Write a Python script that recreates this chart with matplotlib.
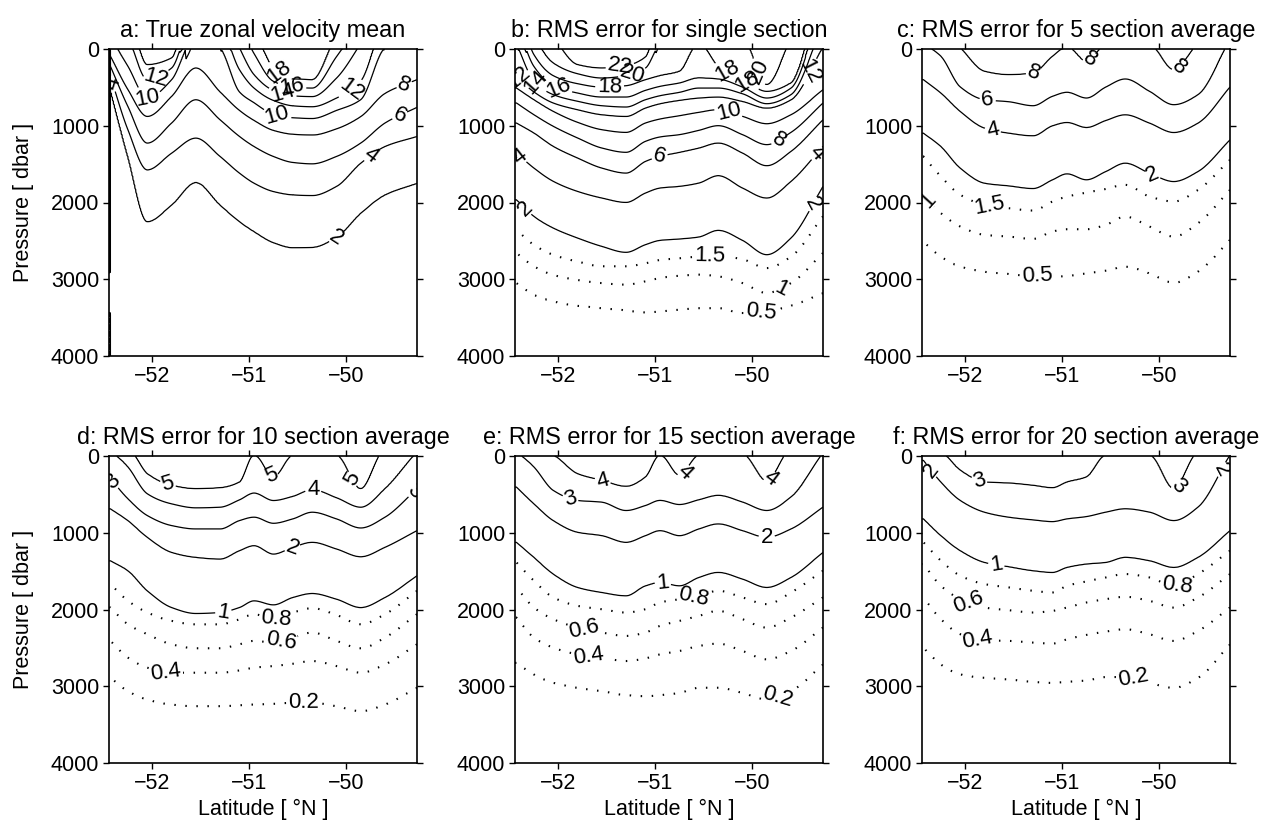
import numpy as np
import matplotlib
matplotlib.use("Agg")
import matplotlib.pyplot as plt

plt.rcParams['font.family'] = ['Liberation Sans', 'DejaVu Sans']

nan = np.nan
# latitude nodes (deg N) shared by all panels
lat = [-52.43, -52.25, -52.05, -51.8, -51.55, -51.3, -51.1, -50.95,
       -50.75, -50.55, -50.35, -50.1, -49.85, -49.6, -49.27]
edge_lat = -52.445

# each panel: value at the surface, pressure (dbar) of every contour level
# at each latitude node (nan = level absent), value at 4000 dbar

# a: true zonal velocity mean
a_surface = [9, 11, 15, 14.8, 8.7, 9.9, 13.9, 16.3, 18.8, 19.5, 19.5, 16.8, 13.5, 9.9, 9.0]
a_depth = {
    18: [nan, nan, nan, nan, nan, nan, nan, nan, 248, 391, 400, nan, nan, nan, nan],
    16: [nan, nan, nan, nan, nan, nan, nan, 60, 422, 496, 509, 100, nan, nan, nan],
    14: [nan, nan, 204, 117, nan, nan, nan, 335, 540, 610, 620, 380, nan, nan, nan],
    12: [nan, nan, 400, 248, nan, nan, 270, 509, 670, 740, 752, 640, 420, nan, nan],
    10: [nan, 226, 639, 400, nan, nan, 560, 700, 850, 895, 905, 800, 660, nan, nan],
    8: [96, 530, 878, 617, 248, 560, 800, 930, 1060, 1110, 1120, 1040, 880, 580, 400],
    6: [226, 748, 1226, 965, 661, 922, 1139, 1270, 1400, 1478, 1496, 1400, 1226, 965, 760],
    4: [357, 1052, 1574, 1357, 1161, 1400, 1617, 1748, 1857, 1900, 1909, 1790, 1487, 1270, 1139],
    2: [530, 1400, 2248, 2031, 1739, 2031, 2248, 2378, 2522, 2587, 2583, 2452, 2139, 1900, 1748],
}
a_bottom = 0.8
# strongly negative values right at the western boundary
a_edge_p = [0, 2880, 2920, 3430, 3470, 4000]
a_edge_v = [-30, -30, 1, 1, -30, -30]

# b: single section
b_surface = [13.5, 18.8, 21, 23.5, 24, 24, 22.5, 19.5, 18.5, 17.5, 18.5, 19, 21.5, 19, 11.8]
b_depth = {
    22: [nan, nan, nan, 204, 248, 217, 104, nan, nan, nan, nan, nan, nan, nan, nan],
    20: [nan, nan, 183, 322, 378, 348, 248, nan, nan, nan, nan, nan, 465, nan, nan],
    18: [nan, 74, 348, 452, 496, 478, 400, 348, 291, nan, 226, 396, 552, 443, nan],
    16: [nan, 226, 478, 574, 626, 626, 539, 487, 443, 378, 391, 496, 639, 509, nan],
    14: [nan, 420, 595, 681, 739, 756, 661, 609, 565, 509, 509, 583, 713, 595, nan],
    12: [357, 560, 704, 791, 856, 878, 769, 713, 669, 639, 626, 683, 769, 661, nan],
    10: [508, 660, 812, 955, 1051, 1086, 964, 912, 869, 825, 790, 877, 973, 856, 530],
    8: [703, 856, 1007, 1159, 1290, 1346, 1203, 1146, 1116, 1060, 999, 1116, 1246, 1086, 703],
    6: [964, 1094, 1268, 1420, 1551, 1616, 1464, 1398, 1346, 1290, 1225, 1355, 1520, 1333, 921],
    4: [1355, 1551, 1724, 1855, 1941, 1998, 1876, 1811, 1789, 1746, 1650, 1811, 1941, 1724, 1268],
    2: [1963, 2180, 2332, 2462, 2571, 2649, 2549, 2493, 2475, 2449, 2362, 2493, 2680, 2462, 1789],
    1.5: [2357, 2553, 2683, 2770, 2831, 2831, 2792, 2749, 2727, 2705, 2696, 2740, 2853, 2705, 2180],
    1: [2658, 2831, 2944, 3009, 3050, 3070, 3027, 2983, 2953, 2940, 2962, 3050, 3179, 3050, 2658],
    0.5: [3050, 3201, 3288, 3344, 3375, 3405, 3431, 3418, 3396, 3375, 3375, 3440, 3418, 3344, 3179],
}
b_bottom = 0.2

# c: 5 section average
c_surface = [5.5, 6.2, 7.9, 8.7, 8.8, 8.7, 8.2, 7.8, 8.15, 7.6, 7.4, 7.6, 8.6, 7.5, 5.2]
c_depth = {
    8: [nan, nan, nan, 291, 335, 313, 96, nan, 161, nan, nan, nan, 270, nan, nan],
    6: [nan, 96, 496, 661, 687, 739, 617, 565, 639, 496, 391, 552, 726, 596, nan],
    4: [400, 574, 813, 1030, 1096, 1130, 1000, 957, 1022, 931, 857, 965, 1087, 965, 496],
    2: [1096, 1270, 1552, 1748, 1783, 1817, 1704, 1626, 1704, 1596, 1487, 1617, 1726, 1596, 1183],
    1.5: [1400, 1661, 1900, 2030, 2074, 2104, 1987, 1922, 1870, 1822, 1770, 1922, 1987, 1835, 1443],
    1: [1900, 2139, 2313, 2422, 2444, 2474, 2378, 2348, 2348, 2291, 2183, 2313, 2444, 2270, 1835],
    0.5: [2509, 2704, 2835, 2900, 2931, 2957, 2965, 2957, 2922, 2887, 2835, 2922, 3044, 2900, 2487],
}
c_bottom = 0.15

# d: 10 section average
d_surface = [3.5, 4.2, 5.3, 5.5, 5.6, 5.6, 5.4, 4.9, 5.3, 4.9, 4.6, 4.9, 5.4, 4.3, 3.6]
d_depth = {
    5: [nan, nan, 231, 383, 427, 414, 340, nan, 274, nan, nan, nan, 427, nan, nan],
    4: [nan, 144, 492, 623, 675, 667, 571, 484, 580, 527, 440, 545, 667, 427, nan],
    3: [296, 558, 776, 906, 950, 950, 841, 797, 876, 819, 732, 819, 937, 797, 427],
    2: [688, 841, 1059, 1255, 1320, 1342, 1233, 1168, 1277, 1189, 1124, 1211, 1312, 1189, 972],
    1: [1364, 1494, 1756, 1974, 2052, 2039, 1974, 1887, 1939, 1843, 1791, 1865, 1974, 1843, 1560],
    0.8: [1669, 1887, 2039, 2148, 2192, 2192, 2126, 2061, 2126, 2039, 1982, 2070, 2192, 2061, 1756],
    0.6: [1974, 2192, 2322, 2453, 2505, 2505, 2453, 2409, 2431, 2366, 2300, 2409, 2505, 2366, 2061],
    0.4: [2409, 2627, 2758, 2823, 2823, 2823, 2793, 2758, 2736, 2706, 2671, 2736, 2823, 2715, 2453],
    0.2: [2889, 3063, 3172, 3237, 3259, 3259, 3246, 3237, 3228, 3215, 3215, 3259, 3324, 3237, 3019],
}
d_bottom = 0.05

# e: 15 section average
e_surface = [2.6, 3.2, 3.9, 4.3, 4.4, 4.5, 4.2, 3.9, 4.2, 3.9, 3.7, 3.8, 4.2, 3.3, 2.7]
e_depth = {
    4: [nan, nan, nan, 231, 318, 396, 274, nan, 253, nan, nan, nan, 327, nan, nan],
    3: [nan, 144, 449, 579, 601, 710, 645, 579, 632, 571, 514, 601, 710, 536, nan],
    2: [405, 623, 841, 993, 1037, 1124, 1037, 972, 1037, 950, 884, 972, 1059, 950, 667],
    1: [1124, 1320, 1538, 1712, 1778, 1821, 1691, 1647, 1691, 1582, 1516, 1603, 1712, 1582, 1255],
    0.8: [1386, 1625, 1843, 1952, 1996, 2039, 1996, 1908, 1865, 1821, 1756, 1843, 1930, 1778, 1494],
    0.6: [1712, 1974, 2126, 2235, 2300, 2344, 2300, 2213, 2148, 2083, 2017, 2126, 2235, 2104, 1843],
    0.4: [2104, 2366, 2497, 2584, 2627, 2671, 2636, 2584, 2540, 2475, 2444, 2540, 2649, 2540, 2235],
    0.2: [2693, 2845, 2954, 3019, 3063, 3115, 3128, 3115, 3085, 3019, 3019, 3085, 3172, 3063, 2715],
}
e_bottom = 0.05

# f: 20 section average
f_surface = [2.1, 2.6, 3.1, 3.3, 3.35, 3.4, 3.35, 3.2, 3.1, 2.9, 2.8, 2.9, 3.2, 2.6, 1.9]
f_depth = {
    3: [nan, nan, 187, 340, 353, 383, 414, 340, 274, nan, nan, nan, 427, nan, nan],
    2: [57, 340, 579, 732, 797, 832, 854, 819, 789, 732, 688, 732, 841, 667, nan],
    1: [819, 1037, 1233, 1386, 1442, 1494, 1516, 1451, 1407, 1386, 1320, 1364, 1451, 1320, 972],
    0.8: [1124, 1364, 1560, 1669, 1712, 1756, 1778, 1691, 1634, 1582, 1538, 1582, 1691, 1538, 1233],
    0.6: [1407, 1691, 1865, 1974, 2009, 2039, 2017, 1974, 1908, 1865, 1834, 1887, 1974, 1843, 1538],
    0.4: [1843, 2126, 2322, 2401, 2409, 2431, 2444, 2388, 2331, 2287, 2257, 2322, 2409, 2279, 1974],
    0.2: [2497, 2715, 2845, 2889, 2911, 2941, 2954, 2941, 2924, 2880, 2880, 2954, 3019, 2889, 2453],
}
f_bottom = 0.05

titles = ['a: True zonal velocity mean',
          'b: RMS error for single section',
          'c: RMS error for 5 section average',
          'd: RMS error for 10 section average',
          'e: RMS error for 15 section average',
          'f: RMS error for 20 section average']

# where the contour labels sit (lat, dbar)
label_pos = [
    [(-52.40, 450), (-51.95, 400), (-52.05, 640), (-50.67, 270), (-50.56, 500),
     (-50.66, 590), (-50.72, 900), (-49.93, 560), (-49.40, 469), (-49.45, 860),
     (-49.74, 1400), (-50.10, 2465)],
    [(-52.43, 400), (-52.26, 465), (-52.0, 509), (-51.47, 487), (-51.23, 357),
     (-51.37, 183), (-50.24, 226), (-50.07, 443), (-49.93, 291), (-49.39, 300),
     (-50.26, 878), (-49.71, 1226), (-50.96, 1378), (-52.39, 1400), (-49.30, 1400),
     (-52.38, 2139), (-49.32, 2052), (-50.44, 2705), (-49.69, 3139), (-49.91, 3487)],
    [(-51.275, 400), (-50.71, 139), (-49.77, 270), (-51.77, 683), (-51.72, 1096),
     (-50.06, 1617), (-52.35, 1944), (-51.75, 2052), (-51.26, 2965)],
    [(-52.41, 340), (-51.85, 414), (-50.77, 253), (-50.0, 340), (-50.34, 449),
     (-49.32, 427), (-50.55, 1211), (-51.265, 2039), (-50.72, 2148), (-50.67, 2431),
     (-51.86, 2802), (-50.44, 3237)],
    [(-51.54, 318), (-50.72, 187), (-49.81, 296), (-51.88, 579), (-49.85, 1081),
     (-50.92, 1647), (-50.60, 1843), (-51.73, 2257), (-51.69, 2605), (-49.74, 3128)],
    [(-52.35, 187), (-51.86, 340), (-49.81, 383), (-49.40, 144), (-51.685, 1494),
     (-49.82, 1669), (-51.98, 1952), (-51.87, 2388), (-50.27, 2911)],
]

pres = np.arange(0, 4001, 10.0)
xf = np.linspace(lat[0], lat[-1], 317)


def pchip(x, y, xi):
    # shape preserving cubic through the read points
    x = np.asarray(x, float)
    y = np.asarray(y, float)
    h = np.diff(x)
    delta = np.diff(y) / h
    n = len(x)
    d = np.zeros(n)
    for k in range(1, n - 1):
        if delta[k - 1] * delta[k] > 0:
            w1 = 2 * h[k] + h[k - 1]
            w2 = h[k] + 2 * h[k - 1]
            d[k] = (w1 + w2) / (w1 / delta[k - 1] + w2 / delta[k])
    d[0] = delta[0]
    d[-1] = delta[-1]
    i = np.clip(np.searchsorted(x, xi) - 1, 0, n - 2)
    t = (xi - x[i]) / h[i]
    return ((2 * t**3 - 3 * t**2 + 1) * y[i] + (t**3 - 2 * t**2 + t) * h[i] * d[i]
            + (-2 * t**3 + 3 * t**2) * y[i + 1] + (t**3 - t**2) * h[i] * d[i + 1])


def section(surface, depth, bottom):
    s_nodes = np.array(surface, float)
    sf = np.interp(xf, lat, s_nodes)
    lev = {}
    for L, d in depth.items():
        d = np.array(d, float)
        # levels missing at a node sit above the sea surface there
        virt = np.where(np.isnan(d), -150.0 * (L - s_nodes), d)
        lev[L] = pchip(lat, virt, xf)
    cols = []
    for j in range(len(xf)):
        pts = sorted((lev[L][j], L) for L in depth if lev[L][j] > 0)
        top = max([sf[j]] + [L + 0.05 for _, L in pts])
        z = [0.0] + [q for q, _ in pts] + [4000.0]
        v = [top] + [L for _, L in pts] + [bottom]
        cols.append(np.interp(pres, z, v))
    return np.array(cols).T


panels = [(a_surface, a_depth, a_bottom, 2),
          (b_surface, b_depth, b_bottom, 2),
          (c_surface, c_depth, c_bottom, 2),
          (d_surface, d_depth, d_bottom, 1),
          (e_surface, e_depth, e_bottom, 1),
          (f_surface, f_depth, f_bottom, 1)]

W, H = 1263, 824
lefts = [109, 515, 922]
tops = [49, 456]
dots = (0, (0.7, 4.6))
fig = plt.figure(figsize=(W / 100, H / 100), dpi=100)

for k, (surf, depth, bottom, solid_min) in enumerate(panels):
    r, c = divmod(k, 3)
    ax = fig.add_axes([lefts[c] / W, 1 - (tops[r] + 307) / H, 308 / W, 307 / H])
    Z = section(surf, depth, bottom)
    x = np.r_[edge_lat, xf]
    if k == 0:
        edge = np.interp(pres, a_edge_p, a_edge_v)
    else:
        edge = Z[:, 0]
    Z = np.column_stack([edge, Z])

    if k == 0:
        ax.contour(x, pres, Z, levels=np.arange(-28, 1, 2), colors='k', linewidths=0.9)
    levels = sorted(depth)
    styles = ['solid' if l >= solid_min else dots for l in levels]
    widths = [0.9 if l >= solid_min else 1.5 for l in levels]
    cs = ax.contour(x, pres, Z, levels=levels, colors='k', linewidths=widths,
                    linestyles=styles)
    ax.clabel(cs, fmt='%g', fontsize=16, inline=True, inline_spacing=2,
              manual=label_pos[k])

    ax.set_xlim(edge_lat, -49.27)
    ax.set_ylim(4000, 0)
    ax.set_xticks([-52, -51, -50])
    ax.set_yticks([0, 1000, 2000, 3000, 4000])
    ax.tick_params(direction='out', top=True, right=True, length=4, width=1,
                   labelsize=15.5, pad=3)
    for s in ax.spines.values():
        s.set_linewidth(1.2)
    ax.set_title(titles[k], fontsize=16.8, pad=8.5)
    if c == 0:
        ax.set_ylabel('Pressure [ dbar ]', fontsize=15.5, labelpad=12)
    if r == 1:
        ax.set_xlabel('Latitude [ °N ]', fontsize=15.5, labelpad=4)

fig.savefig('out.png', dpi=100)
